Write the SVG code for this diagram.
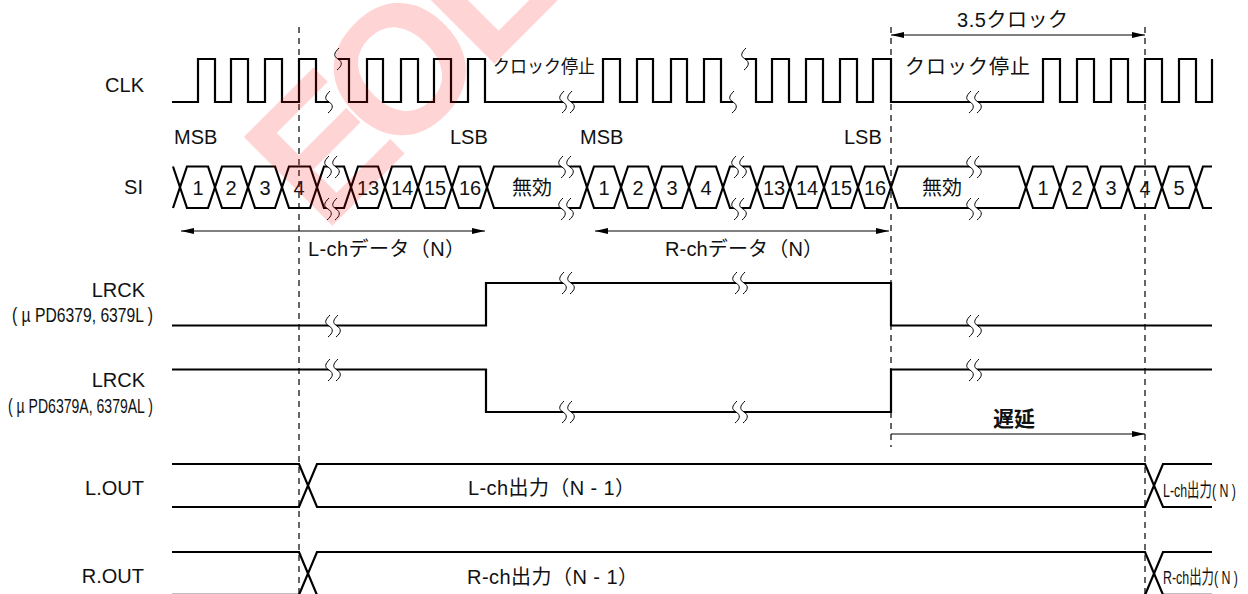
<svg xmlns="http://www.w3.org/2000/svg" width="1248" height="594" viewBox="0 0 1248 594">
<style>
text{font-family:"Liberation Sans","Noto Sans CJK JP",sans-serif;font-size:20px;fill:#111}
.m{text-anchor:middle}
.e{text-anchor:end}
.w{fill:none;stroke:#000;stroke-width:2.2}
.d{fill:none;stroke:#000;stroke-width:1.2;stroke-dasharray:6 5}
.a{fill:none;stroke:#000;stroke-width:1}
.s{fill:none;stroke:#000;stroke-width:1}
.c{font-size:18px}
</style>
<defs>
<marker id="ah" viewBox="0 0 13 6" refX="13" refY="3" markerWidth="13" markerHeight="6" markerUnits="userSpaceOnUse" orient="auto-start-reverse"><path d="M0 0L13 3L0 6Z" fill="#000"/></marker>
<path id="sq" d="M1 -11C-4 -6 -5 -3 0 0C5 3 4 7 -1 11"/>
<g id="b2"><path d="M-3 -11C-8 -6 -9 -3 -4 0C1 3 0 7 -5 11H3C8 7 9 3 4 0C-1 -3 0 -6 5 -11Z" fill="#fff"/><use href="#sq" x="-4" class="s"/><use href="#sq" x="4" class="s"/></g>
</defs>
<g id="guides">
<path class="d" d="M299 27V594"/>
<path class="d" d="M891 27V447"/>
<path class="d" d="M1145 27V594"/>
</g>
<g id="connectors">
<path class="a" d="M891 35H1145" marker-start="url(#ah)" marker-end="url(#ah)"/>
<path class="a" d="M181 231H485" marker-start="url(#ah)" marker-end="url(#ah)"/>
<path class="a" d="M595 231H889" marker-start="url(#ah)" marker-end="url(#ah)"/>
<path class="a" d="M891 434H1145" marker-end="url(#ah)"/>
</g>
<g id="clk">
<text class="e" x="144" y="92">CLK</text>
<path class="w" d="M172 102H198V59H215V102H231V59H248V102H265V59H282V102H299V59H316V102H329"/>
<path class="w" d="M338 59H349V102H367V59H383V102H401V59H418V102H434V59H451V102H468V59H485V102H603V59H620V102H637V59H653V102H671V59H687V102H704V59H721V102H733"/>
<path class="w" d="M745 59H756V102H772V59H789V102H806V59H823V102H840V59H857V102H873V59H891V102H1043V59H1060V102H1077V59H1094V102H1111V59H1128V102H1145V59H1162V102H1179V59H1196V102H1212V59"/>
<use href="#sq" x="329" y="102" class="s"/><use href="#sq" x="338" y="59" class="s"/>
<use href="#sq" x="733" y="102" class="s"/><use href="#sq" x="745" y="59" class="s"/>
<use href="#b2" x="567" y="102"/><use href="#b2" x="974" y="102"/>
<text class="c" x="493" y="73" textLength="102" lengthAdjust="spacingAndGlyphs">クロック停止</text>
<text x="905" y="74" textLength="125">クロック停止</text>
<text x="957" y="27" textLength="111">3.5クロック</text>
</g>
<g id="si">
<text class="e" x="143" y="194">SI</text>
<text x="174" y="144">MSB</text><text x="450" y="144">LSB</text><text x="580" y="144">MSB</text><text x="844" y="144">LSB</text>
<path class="w" d="M173 166.5L187 208H208L222 166.5H241L255 208H275L289 166.5H310L324 208H344L358 166.5H378L392 208H411L425 166.5H445L459 208H480L494 166.5H580L594 208H614L628 166.5H648L662 208H682L696 166.5H716L730 208H750L764 166.5H783L797 208H817L831 166.5H851L865 208H884L898 166.5H1019L1033 208H1053L1067 166.5H1087L1101 208H1121L1135 166.5H1155L1169 208H1189L1203 166.5H1212"/>
<path class="w" d="M173 208L187 166.5H208L222 208H241L255 166.5H275L289 208H310L324 166.5H344L358 208H378L392 166.5H411L425 208H445L459 166.5H480L494 208H580L594 166.5H614L628 208H648L662 166.5H682L696 208H716L730 166.5H750L764 208H783L797 166.5H817L831 208H851L865 166.5H884L898 208H1019L1033 166.5H1053L1067 208H1087L1101 166.5H1121L1135 208H1155L1169 166.5H1189L1203 208H1212"/>
<use href="#b2" x="332" y="167"/><use href="#b2" x="332" y="209"/>
<use href="#b2" x="739" y="167"/><use href="#b2" x="739" y="209"/>
<use href="#b2" x="566" y="167"/><use href="#b2" x="566" y="209"/>
<use href="#b2" x="974" y="167"/><use href="#b2" x="974" y="209"/>
<g>
<text class="m" x="198" y="195">1</text><text class="m" x="231" y="195">2</text><text class="m" x="265" y="195">3</text><text class="m" x="299" y="195">4</text>
<text class="m" x="368" y="195">13</text><text class="m" x="402" y="195">14</text><text class="m" x="435" y="195">15</text><text class="m" x="470" y="195">16</text>
<text class="m" x="532" y="195">無効</text>
<text class="m" x="604" y="195">1</text><text class="m" x="638" y="195">2</text><text class="m" x="672" y="195">3</text><text class="m" x="706" y="195">4</text>
<text class="m" x="774" y="195">13</text><text class="m" x="807" y="195">14</text><text class="m" x="841" y="195">15</text><text class="m" x="875" y="195">16</text>
<text class="m" x="942" y="195">無効</text>
<text class="m" x="1043" y="195">1</text><text class="m" x="1077" y="195">2</text><text class="m" x="1111" y="195">3</text><text class="m" x="1145" y="195">4</text><text class="m" x="1179" y="195">5</text>
</g>
<text x="308" y="256" textLength="157">L-chデータ（N）</text>
<text x="665" y="256" textLength="158">R-chデータ（N）</text>
</g>
<g id="lrck1">
<text class="e" x="145" y="297">LRCK</text>
<text x="12" y="322" textLength="141" lengthAdjust="spacingAndGlyphs" style="font-size:20px">(  µ PD6379, 6379L )</text>
<path class="w" d="M172 325.5H486V283H891V325.5H1212"/>
<use href="#b2" x="333" y="326"/><use href="#b2" x="567" y="283"/><use href="#b2" x="740" y="283"/><use href="#b2" x="974" y="326"/>
</g>
<g id="lrck2">
<text class="e" x="145" y="387">LRCK</text>
<text x="8" y="413" textLength="145" lengthAdjust="spacingAndGlyphs" style="font-size:20px">(  µ PD6379A, 6379AL )</text>
<path class="w" d="M172 369.5H486V412H891V369.5H1212"/>
<use href="#b2" x="333" y="370"/><use href="#b2" x="567" y="412"/><use href="#b2" x="740" y="412"/><use href="#b2" x="974" y="370"/>
<text x="993" y="426" style="font-weight:bold;font-size:21px">遅延</text>
</g>
<g id="lout">
<text class="e" x="144" y="495">L.OUT</text>
<path class="w" d="M172 464H299L317 507H1145L1163 464H1212"/>
<path class="w" d="M172 507H299L317 464H1145L1163 507H1212"/>
<text x="468" y="495" textLength="167">L-ch出力（N - 1）</text>
<text x="1163" y="497" textLength="73" lengthAdjust="spacingAndGlyphs" style="font-size:19px">L-ch出力( N )</text>
</g>
<g id="rout">
<text class="e" x="144" y="583">R.OUT</text>
<path class="w" d="M172 552H299L317 595H1145L1163 552H1212"/>
<path class="w" d="M172 594.8H299L317 552H1145L1163 594.8H1212"/>
<text x="467" y="584" textLength="171">R-ch出力（N - 1）</text>
<text x="1163" y="584" textLength="75" lengthAdjust="spacingAndGlyphs" style="font-size:19px">R-ch出力( N )</text>
</g>
<g id="watermark">
<text transform="translate(333 225) rotate(-45)" x="-13 87 216" y="0" style="font-size:182px;font-weight:bold;fill:#f00;fill-opacity:.17;font-family:'Liberation Sans',sans-serif">EOL</text>
</g>
</svg>
